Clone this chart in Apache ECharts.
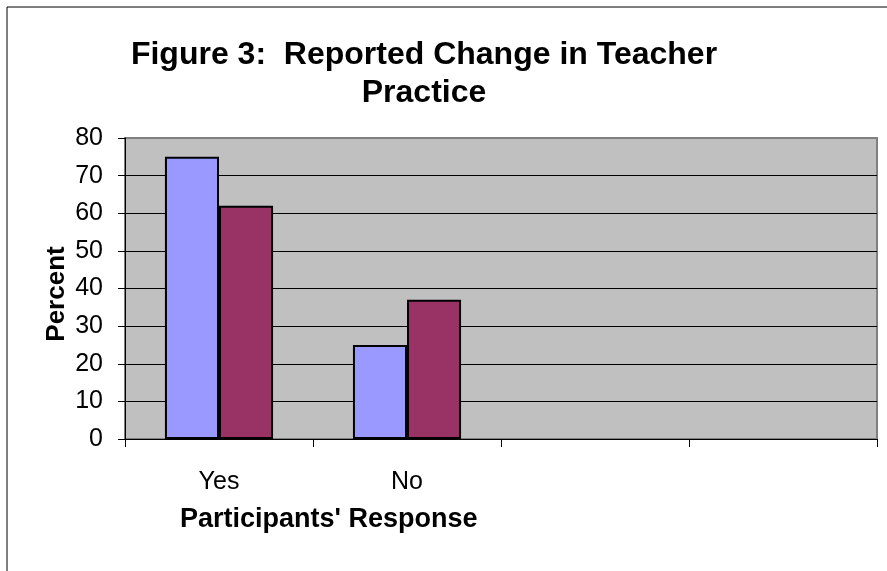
<!DOCTYPE html>
<html><head><meta charset="utf-8">
<script src="https://cdn.jsdelivr.net/npm/echarts@6/dist/echarts.min.js"></script>
<style>html,body{margin:0;padding:0;background:#fff}#c{width:887px;height:571px}</style>
</head><body><div id="c"></div>
<script>
const categories = ['Yes', 'No', '', ''];
const seriesA = [75, 25, null, null];
const seriesB = [62, 37, null, null];
const yTicks = [0, 10, 20, 30, 40, 50, 60, 70, 80];

const chart = echarts.init(document.getElementById('c'));
const font = 'Arial, "Liberation Sans", sans-serif';
chart.setOption({
  animation: false,
  backgroundColor: '#fff',
  title: {
    text: 'Figure 3:  Reported Change in Teacher\nPractice',
    left: 419, top: 31, textAlign: 'center',
    textStyle: { fontFamily: font, fontSize: 32, fontWeight: 'bold', color: '#000', lineHeight: 38 }
  },
  graphic: [
    { type: 'line', shape: { x1: 7, y1: 7, x2: 887, y2: 7 }, style: { stroke: '#000', lineWidth: 1 } },
    { type: 'line', shape: { x1: 7, y1: 7, x2: 7, y2: 571 }, style: { stroke: '#000', lineWidth: 1 } },
    { type: 'text', x: 180, y: 520, style: { text: "Participants' Response", fontFamily: font, fontSize: 27, fontWeight: 'bold', fill: '#000', verticalAlign: 'middle' } },
    { type: 'text', x: 57, y: 294, rotation: Math.PI / 2, style: { text: 'Percent', fontFamily: font, fontSize: 26, fontWeight: 'bold', fill: '#000', align: 'center', verticalAlign: 'middle' } }
  ],
  grid: { left: 125, right: 10, top: 138, bottom: 132, show: true, backgroundColor: '#C0C0C0', borderColor: '#808080', borderWidth: 2 },
  xAxis: {
    type: 'category', data: categories,
    axisLine: { lineStyle: { color: '#000', width: 1 } },
    axisTick: { show: true, length: 8, lineStyle: { color: '#000' } },
    axisLabel: { fontFamily: font, fontSize: 25, color: '#000', margin: 31 }
  },
  yAxis: {
    type: 'value', min: 0, max: 80, interval: 10,
    axisLine: { show: true, lineStyle: { color: '#000', width: 1 } },
    axisTick: { show: true, length: 7, lineStyle: { color: '#000' } },
    axisLabel: { fontFamily: font, fontSize: 25, color: '#000', margin: 22,
      formatter: v => yTicks.includes(v) ? String(v) : '' },
    splitLine: { showMaxLine: false, lineStyle: { color: '#000', width: 1 } }
  },
  series: [
    { type: 'bar', data: seriesA, barGap: '0%', barCategoryGap: '42.5%',
      itemStyle: { color: '#9999FF', borderColor: '#000', borderWidth: 2 } },
    { type: 'bar', data: seriesB,
      itemStyle: { color: '#993366', borderColor: '#000', borderWidth: 2 } }
  ]
});
</script></body></html>
